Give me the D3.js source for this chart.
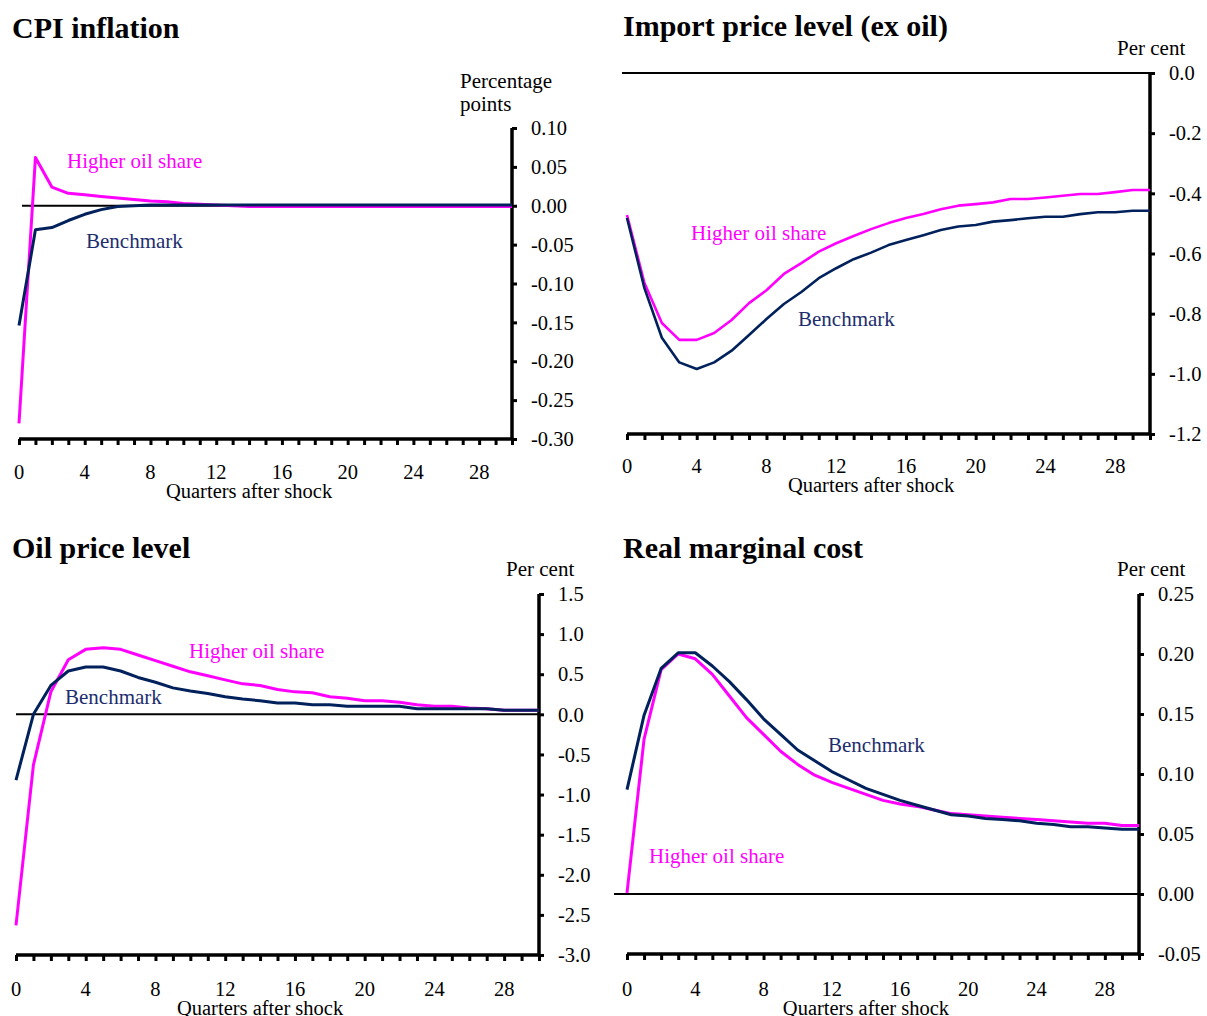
<!DOCTYPE html>
<html>
<head>
<meta charset="utf-8">
<script src="https://cdn.jsdelivr.net/npm/d3@7"></script>
<style>
  body { margin: 0; background: #fff; }
  svg { display: block; }
  text { font-family: "Liberation Serif", "Times New Roman", serif; }
</style>
</head>
<body>
<svg id="chart" width="1207" height="1016"></svg>
<script>
// Impulse responses over 30 quarters after the shock
const quarters = d3.range(0, 31);
const xTickLabels = [0, 4, 8, 12, 16, 20, 24, 28];

// CPI inflation, percentage points
const cpiBenchmark = [-0.154, -0.031, -0.028, -0.019, -0.011, -0.005, -0.001, 0.000, 0.001, 0.001,
  0.001, 0.001, 0.001, 0.001, 0.001, 0.001, 0.001, 0.001, 0.001, 0.001, 0.001, 0.001, 0.001, 0.001,
  0.001, 0.001, 0.001, 0.001, 0.001, 0.001, 0.001];
const cpiHigherOil = [-0.280, 0.062, 0.024, 0.016, 0.014, 0.012, 0.010, 0.008, 0.006, 0.005,
  0.003, 0.002, 0.001, 0.000, -0.001, -0.001, -0.001, -0.001, -0.001, -0.001, -0.001, -0.001, -0.001,
  -0.001, -0.001, -0.001, -0.001, -0.001, -0.001, -0.001, -0.001];
const cpiTicks = [0.10, 0.05, 0.00, -0.05, -0.10, -0.15, -0.20, -0.25, -0.30];

// Import price level (ex oil), per cent
const impBenchmark = [-0.482, -0.715, -0.880, -0.962, -0.984, -0.962, -0.923, -0.871, -0.818, -0.768,
  -0.728, -0.682, -0.649, -0.619, -0.597, -0.572, -0.555, -0.539, -0.522, -0.510, -0.505, -0.494,
  -0.489, -0.483, -0.478, -0.478, -0.469, -0.463, -0.463, -0.458, -0.458];
const impHigherOil = [-0.472, -0.698, -0.831, -0.887, -0.887, -0.864, -0.821, -0.765, -0.722, -0.668,
  -0.632, -0.594, -0.566, -0.542, -0.519, -0.499, -0.482, -0.469, -0.453, -0.441, -0.436, -0.430,
  -0.419, -0.419, -0.414, -0.408, -0.402, -0.402, -0.396, -0.389, -0.389];
const impTicks = [0.0, -0.2, -0.4, -0.6, -0.8, -1.0, -1.2];

// Oil price level, per cent
const oilBenchmark = [-0.82, 0.00, 0.36, 0.54, 0.59, 0.59, 0.54, 0.46, 0.40, 0.33, 0.29, 0.26, 0.22,
  0.19, 0.17, 0.14, 0.14, 0.12, 0.12, 0.10, 0.10, 0.10, 0.10, 0.07, 0.07, 0.07, 0.07, 0.07, 0.05,
  0.05, 0.05];
const oilHigherOil = [-2.63, -0.63, 0.28, 0.68, 0.81, 0.83, 0.81, 0.74, 0.67, 0.60, 0.53, 0.48, 0.43,
  0.38, 0.36, 0.31, 0.28, 0.27, 0.22, 0.20, 0.17, 0.17, 0.15, 0.12, 0.10, 0.10, 0.08, 0.07, 0.05,
  0.05, 0.05];
const oilTicks = [1.5, 1.0, 0.5, 0.0, -0.5, -1.0, -1.5, -2.0, -2.5, -3.0];

// Real marginal cost, per cent
const rmcBenchmark = [0.087, 0.149, 0.188, 0.201, 0.201, 0.190, 0.177, 0.162, 0.146, 0.133, 0.120,
  0.111, 0.102, 0.095, 0.088, 0.083, 0.078, 0.074, 0.070, 0.066, 0.065, 0.063, 0.062, 0.061, 0.059,
  0.058, 0.056, 0.056, 0.055, 0.054, 0.054];
const rmcHigherOil = [0.001, 0.129, 0.187, 0.200, 0.196, 0.183, 0.165, 0.147, 0.133, 0.119, 0.108,
  0.099, 0.093, 0.088, 0.083, 0.078, 0.075, 0.073, 0.070, 0.067, 0.066, 0.065, 0.064, 0.063, 0.062,
  0.061, 0.060, 0.059, 0.059, 0.057, 0.057];
const rmcTicks = [0.25, 0.20, 0.15, 0.10, 0.05, 0.00, -0.05];

const NAVY = "#00215b";
const NAVY_TEXT = "#1c2d6e";
const MAGENTA = "#ff00ff";

const TITLE_SIZE = 30;
const LABEL_SIZE = 21;
const TICK_SIZE = 20.5;

const svg = d3.select("#chart");

const panels = [
  {
    title: "CPI inflation", titleX: 12, titleY: 38,
    unit: ["Percentage", "points"], unitX: 460, unitY: 88,
    xRange: [19, 512], yDomain: [-0.30, 0.10], yRange: [439, 128], zeroStart: 22,
    ticks: cpiTicks, fmt: d3.format(".2f"),
    bench: cpiBenchmark, high: cpiHigherOil, lw: 3,
    xLabelY: 479, qLabelY: 498,
    highLabel: [67, 168], benchLabel: [86, 248]
  },
  {
    title: "Import price level (ex oil)", titleX: 623, titleY: 36,
    unit: ["Per cent"], unitX: 1117, unitY: 55,
    xRange: [627, 1150], yDomain: [-1.2, 0], yRange: [434, 73], zeroStart: 622,
    ticks: impTicks, fmt: d3.format(".1f"),
    bench: impBenchmark, high: impHigherOil, lw: 2.6,
    xLabelY: 473, qLabelY: 492,
    highLabel: [691, 240], benchLabel: [798, 326]
  },
  {
    title: "Oil price level", titleX: 12, titleY: 558,
    unit: ["Per cent"], unitX: 506, unitY: 576,
    xRange: [16, 539], yDomain: [-3.0, 1.5], yRange: [955, 594], zeroStart: 16,
    ticks: oilTicks, fmt: d3.format(".1f"),
    bench: oilBenchmark, high: oilHigherOil, lw: 3,
    xLabelY: 996, qLabelY: 1015,
    highLabel: [189, 658], benchLabel: [65, 704]
  },
  {
    title: "Real marginal cost", titleX: 623, titleY: 558,
    unit: ["Per cent"], unitX: 1117, unitY: 576,
    xRange: [627, 1139], yDomain: [-0.05, 0.25], yRange: [954, 594], zeroStart: 614,
    ticks: rmcTicks, fmt: d3.format(".2f"),
    bench: rmcBenchmark, high: rmcHigherOil, lw: 3,
    xLabelY: 996, qLabelY: 1015,
    highLabel: [649, 863], benchLabel: [828, 752]
  }
];

panels.forEach(p => {
  const g = svg.append("g");
  const x = d3.scaleLinear().domain([0, 30]).range(p.xRange);
  const y = d3.scaleLinear().domain(p.yDomain).range(p.yRange);
  const right = p.xRange[1];
  const bottom = p.yRange[0];

  // Title
  g.append("text").attr("x", p.titleX).attr("y", p.titleY)
    .attr("font-size", TITLE_SIZE).attr("font-weight", "bold").attr("fill", "#000")
    .text(p.title);

  // Unit caption above the value axis
  p.unit.forEach((u, i) => {
    g.append("text").attr("x", p.unitX).attr("y", p.unitY + i * 23)
      .attr("font-size", LABEL_SIZE).attr("fill", "#000").text(u);
  });

  // Zero line
  g.append("line")
    .attr("x1", p.zeroStart).attr("x2", right)
    .attr("y1", y(0)).attr("y2", y(0))
    .attr("stroke", "#000").attr("stroke-width", 2);

  // Quarter axis along the bottom
  const xAxis = d3.axisBottom(x).tickValues(quarters).tickSize(6).tickFormat("");
  const xg = g.append("g").attr("transform", `translate(0,${bottom})`).call(xAxis);
  xg.select(".domain").attr("stroke", "#000").attr("stroke-width", 3.5)
    .attr("d", `M${p.xRange[0]},0H${right}`);
  xg.selectAll(".tick line").attr("stroke", "#000").attr("stroke-width", 3);

  g.selectAll(".xlab").data(xTickLabels).join("text")
    .attr("x", d => x(d)).attr("y", p.xLabelY)
    .attr("text-anchor", "middle").attr("font-size", TICK_SIZE).attr("fill", "#000")
    .text(d => d);

  g.append("text")
    .attr("x", (x(0) + x(28)) / 2).attr("y", p.qLabelY)
    .attr("text-anchor", "middle").attr("font-size", TICK_SIZE).attr("fill", "#000")
    .text("Quarters after shock");

  // Value axis on the right
  const yAxis = d3.axisRight(y).tickValues(p.ticks).tickSize(5).tickFormat("");
  const yg = g.append("g").attr("transform", `translate(${right},0)`).call(yAxis);
  yg.select(".domain").attr("stroke", "#000").attr("stroke-width", 3.5)
    .attr("d", `M0,${p.yRange[1]}V${bottom}`);
  yg.selectAll(".tick line").attr("stroke", "#000").attr("stroke-width", 3);

  g.selectAll(".ylab").data(p.ticks).join("text")
    .attr("x", right + 19).attr("y", d => y(d))
    .attr("dy", "0.35em").attr("font-size", TICK_SIZE).attr("fill", "#000")
    .text(d => p.fmt(d).replace("−", "-"));

  // Response lines
  const line = d3.line().x((d, i) => x(quarters[i])).y(d => y(d));
  g.append("path").datum(p.high).attr("d", line)
    .attr("fill", "none").attr("stroke", MAGENTA).attr("stroke-width", p.lw)
    .attr("stroke-linejoin", "round");
  g.append("path").datum(p.bench).attr("d", line)
    .attr("fill", "none").attr("stroke", NAVY).attr("stroke-width", p.lw)
    .attr("stroke-linejoin", "round");

  // Series labels
  g.append("text").attr("x", p.highLabel[0]).attr("y", p.highLabel[1])
    .attr("font-size", LABEL_SIZE).attr("fill", MAGENTA).text("Higher oil share");
  g.append("text").attr("x", p.benchLabel[0]).attr("y", p.benchLabel[1])
    .attr("font-size", LABEL_SIZE).attr("fill", NAVY_TEXT).text("Benchmark");
});
</script>
</body>
</html>
